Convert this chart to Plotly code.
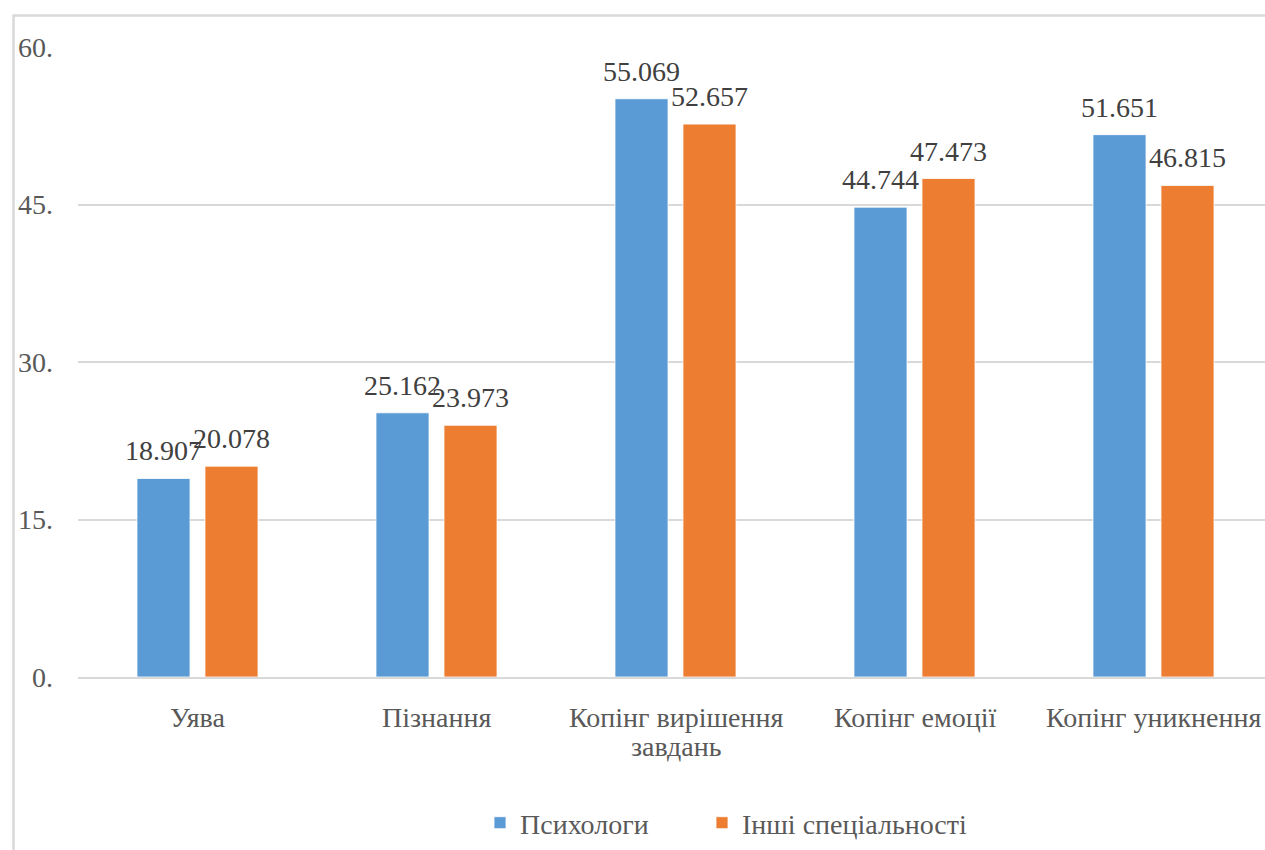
import plotly.graph_objects as go

# Category labels and series values
categories = ["Уява", "Пізнання", "Копінг вирішення\nзавдань", "Копінг емоції", "Копінг уникнення"]
psychologists = [18.907, 25.162, 55.069, 44.744, 51.651]
other_specialties = [20.078, 23.973, 52.657, 47.473, 46.815]
series_names = ["Психологи", "Інші спеціальності"]
y_ticks = [0, 15, 30, 45, 60]
y_tick_text = ["0.", "15.", "30.", "45.", "60."]

FONT = "Times New Roman, Liberation Serif, serif"
BLUE = "#5B9BD5"
ORANGE = "#ED7D31"
LABEL_GREY = "#595959"

W, H = 1265, 850
ML, MR, MT, MB = 78, 0, 47, 173
plot_w = W - ML - MR
plot_h = H - MT - MB
cat_px = 239.0
x_end = -0.5 + plot_w / cat_px

x_idx = list(range(len(categories)))

fig = go.Figure()
for name, vals, col, lg in [(series_names[0], psychologists, BLUE, "legend"),
                            (series_names[1], other_specialties, ORANGE, "legend2")]:
    fig.add_trace(go.Bar(
        x=x_idx, y=vals, name=name, legend=lg,
        marker=dict(color=col, line=dict(color="white", width=0.8)),
    ))

# Value labels above each bar
offset = 0.5 * (1 - 0.431) / 2  # half of a bar slot in category units
annotations = []
for s, vals in enumerate([psychologists, other_specialties]):
    for i, v in enumerate(vals):
        annotations.append(dict(
            x=i + (-offset if s == 0 else offset), y=v, xref="x", yref="y",
            text=f"{v:.3f}", showarrow=False, yanchor="bottom", yshift=10,
            font=dict(family=FONT, size=28, color="#404040"),
        ))

# Category names under the axis, one annotation per line for tight line spacing
for i, cat in enumerate(categories):
    for k, line in enumerate(cat.split("\n")):
        annotations.append(dict(
            x=i, y=0, xref="x", yref="paper", text=line, showarrow=False,
            yanchor="middle", yshift=-40 - 29 * k,
            font=dict(family=FONT, size=28, color=LABEL_GREY),
        ))

legend_font = dict(family=FONT, size=28, color=LABEL_GREY)
legend_y = -(823 - (H - MB)) / plot_h

fig.update_layout(
    width=W, height=H,
    margin=dict(l=ML, r=MR, t=MT, b=MB),
    paper_bgcolor="white", plot_bgcolor="white",
    barmode="group", bargap=0.431, bargroupgap=0.22,
    font=dict(family=FONT, size=28, color=LABEL_GREY),
    annotations=annotations,
    showlegend=True,
    legend=dict(
        orientation="h", x=(480 - ML) / plot_w, xanchor="left",
        y=legend_y, yanchor="middle", font=legend_font,
        bgcolor="rgba(0,0,0,0)",
    ),
    legend2=dict(
        orientation="h", x=(702 - ML) / plot_w, xanchor="left",
        y=legend_y, yanchor="middle", font=legend_font,
        bgcolor="rgba(0,0,0,0)",
    ),
    xaxis=dict(
        range=[-0.5, x_end], tickvals=x_idx, showticklabels=False,
        showgrid=False, zeroline=False, showline=True,
        linecolor="#d9d9d9", linewidth=2, ticks="",
    ),
    yaxis=dict(
        range=[0, 60], tickmode="array", tickvals=y_ticks, ticktext=y_tick_text,
        showgrid=True, gridcolor="#d9d9d9", gridwidth=2, zeroline=False,
        showline=False, ticks="", ticklabelstandoff=24,
        tickfont=dict(family=FONT, size=28, color=LABEL_GREY),
    ),
    shapes=[dict(
        type="rect", xref="paper", yref="paper",
        x0=(13.5 - ML) / plot_w, x1=1.1,
        y0=-0.5, y1=(H - MB - 15.5) / plot_h,
        line=dict(color="#d9d9d9", width=2.5), fillcolor="rgba(0,0,0,0)",
        layer="below",
    )],
)

fig.write_html("out.html")
